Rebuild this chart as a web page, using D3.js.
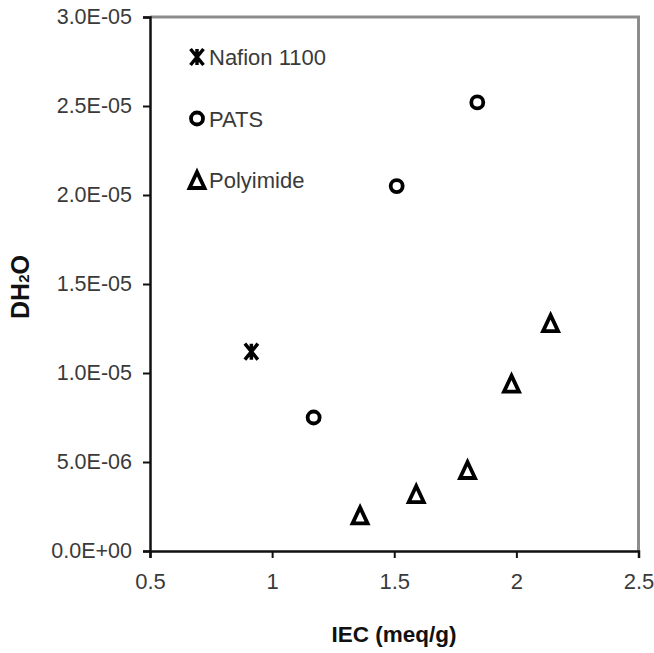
<!DOCTYPE html>
<html>
<head>
<meta charset="utf-8">
<script src="https://cdn.jsdelivr.net/npm/d3@7"></script>
<style>
  html, body { margin: 0; padding: 0; background: #fff; }
  text { font-family: "Liberation Sans", Arial, sans-serif; }
</style>
</head>
<body>
<svg id="chart" width="654" height="653"></svg>
<script>
// ---- Data ----
const nafionIEC = [0.915];
const nafionD   = [1.12e-5];
const patsIEC   = [1.17, 1.51, 1.84];
const patsD     = [7.5e-6, 2.05e-5, 2.52e-5];
const polyIEC   = [1.36, 1.59, 1.80, 1.98, 2.14];
const polyD     = [2.0e-6, 3.2e-6, 4.55e-6, 9.4e-6, 1.28e-5];
const xTicks = [0.5, 1, 1.5, 2, 2.5];
const xTickLabels = ["0.5", "1", "1.5", "2", "2.5"];
const yTicks = [0, 5e-6, 1e-5, 1.5e-5, 2e-5, 2.5e-5, 3e-5];
const yTickLabels = ["0.0E+00", "5.0E-06", "1.0E-05", "1.5E-05", "2.0E-05", "2.5E-05", "3.0E-05"];
const legendNames = ["Nafion 1100", "PATS", "Polyimide"];
const legendShapes = ["star", "circle", "triangle"];

// ---- Layout ----
const svg = d3.select("#chart");
const mLeft = 150, mRight = 638.5, mTop = 17, mBottom = 551;
const x = d3.scaleLinear().domain([0.5, 2.5]).range([mLeft, mRight]);
const y = d3.scaleLinear().domain([0, 3e-5]).range([mBottom, mTop]);

// frame (top + right in grey)
svg.append("path")
  .attr("d", `M${mLeft},${mTop}H${mRight}V${mBottom}`)
  .attr("fill", "none").attr("stroke", "#8c8c8c").attr("stroke-width", 3);

// y axis
const yAxis = d3.axisLeft(y).tickValues(yTicks)
  .tickFormat((d, i) => yTickLabels[i]).tickSize(7).tickPadding(11);
const gy = svg.append("g").attr("transform", `translate(${mLeft},0)`).call(yAxis);
gy.select(".domain").attr("stroke", "#111").attr("stroke-width", 2.5);
gy.selectAll(".tick line").attr("stroke", "#111").attr("stroke-width", 2);
gy.selectAll(".tick text").attr("font-size", 21.5).attr("fill", "#3a3a3a");

// x axis
const xAxis = d3.axisBottom(x).tickValues(xTicks)
  .tickFormat((d, i) => xTickLabels[i]).tickSize(7).tickPadding(15);
const gx = svg.append("g").attr("transform", `translate(0,${mBottom})`).call(xAxis);
gx.select(".domain").attr("stroke", "#111").attr("stroke-width", 2.5);
gx.selectAll(".tick line").attr("stroke", "#111").attr("stroke-width", 2);
gx.selectAll(".tick text").attr("font-size", 22).attr("fill", "#3a3a3a");

// titles
svg.append("text").attr("x", 394).attr("y", 642)
  .attr("text-anchor", "middle").attr("font-weight", "bold").attr("font-size", 22.5)
  .attr("fill", "#111").text("IEC (meq/g)");

const yt = svg.append("text")
  .attr("transform", `translate(29,287) rotate(-90)`)
  .attr("text-anchor", "middle").attr("font-weight", "bold").attr("font-size", 25)
  .attr("fill", "#111");
yt.append("tspan").text("DH");
yt.append("tspan").attr("font-size", 15).text("2");
yt.append("tspan").text("O");

// ---- markers ----
function drawMarker(g, shape, cx, cy) {
  if (shape === "star") {
    const w = 6.5, h = 8;
    g.append("path")
      .attr("d", `M${cx - w},${cy - h}L${cx + w},${cy + h}M${cx + w},${cy - h}L${cx - w},${cy + h}M${cx},${cy - h}V${cy + h}`)
      .attr("stroke", "#000").attr("stroke-width", 3.5).attr("fill", "none");
  } else if (shape === "circle") {
    g.append("circle").attr("cx", cx).attr("cy", cy).attr("r", 6)
      .attr("fill", "#fff").attr("stroke", "#000").attr("stroke-width", 3.8);
  } else {
    const w = 7.5, h = 8;
    g.append("path")
      .attr("d", `M${cx},${cy - h}L${cx + w},${cy + h}L${cx - w},${cy + h}Z`)
      .attr("fill", "#fff").attr("stroke", "#000").attr("stroke-width", 3.8)
      .attr("stroke-linejoin", "miter");
  }
}

const marks = svg.append("g");
nafionIEC.forEach((v, i) => drawMarker(marks, "star", x(v), y(nafionD[i])));
patsIEC.forEach((v, i) => drawMarker(marks, "circle", x(v), y(patsD[i])));
polyIEC.forEach((v, i) => drawMarker(marks, "triangle", x(v), y(polyD[i])));

// ---- legend ----
const lg = svg.append("g");
legendNames.forEach((name, i) => {
  const cy = 57 + i * 61.5;
  drawMarker(lg, legendShapes[i], 197, cy);
  lg.append("text").attr("x", 209).attr("y", cy + 8)
    .attr("font-size", 22).attr("fill", "#3a3a3a").text(name);
});
</script>
</body>
</html>
